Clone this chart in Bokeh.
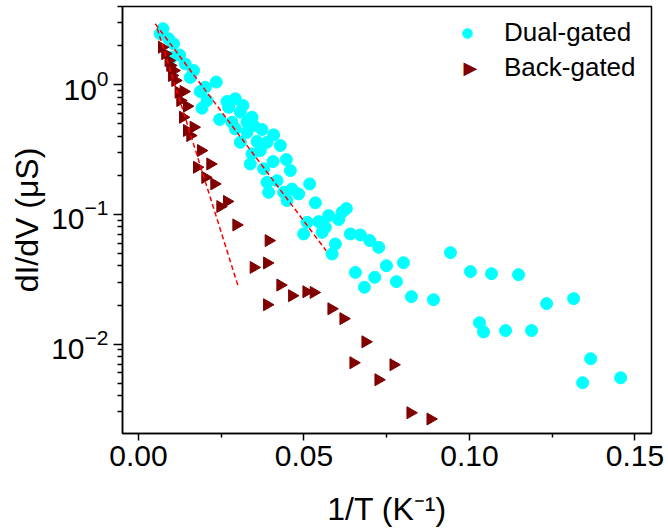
import math
from bokeh.plotting import figure
from bokeh.models import (Range1d, FixedTicker, NumeralTickFormatter, LogTickFormatter,
                          Legend, LegendItem, Label)
from bokeh.embed import file_html
from bokeh.resources import INLINE

# ---- data ----
dual_x = [0.00738, 0.00656, 0.00907, 0.01058, 0.01240, 0.01010, 0.01412, 0.01663, 0.01563, 0.02350,
          0.02017, 0.01866, 0.02069, 0.01917, 0.02673, 0.02924, 0.02722, 0.03157, 0.03076, 0.02450,
          0.02825, 0.03429, 0.03278, 0.02924, 0.03478, 0.03732, 0.03278, 0.03076, 0.03581, 0.04083,
          0.03883, 0.04285, 0.03680, 0.03429, 0.04467, 0.04064, 0.03378, 0.03780, 0.04588, 0.04185,
          0.03883, 0.05171, 0.04639, 0.04839, 0.03931, 0.04385, 0.04488, 0.05344, 0.06281, 0.06151,
          0.05746, 0.06048, 0.05093, 0.05443, 0.05646, 0.04990, 0.05546, 0.06402, 0.06705, 0.06986,
          0.07258, 0.05949, 0.05849, 0.06553, 0.07137, 0.06826, 0.07491, 0.08005, 0.07793, 0.08247,
          0.08912, 0.09426, 0.10031, 0.10303, 0.10666, 0.10424, 0.11090, 0.11483, 0.11876, 0.12330,
          0.13147, 0.13661, 0.13419, 0.14568]
dual_y = [2.71, 2.48, 2.27, 2.07, 1.70, 1.63, 1.45, 1.29, 1.14, 1.05,
          0.958, 0.888, 0.756, 0.660, 0.743, 0.780, 0.671, 0.692, 0.615, 0.540,
          0.514, 0.562, 0.514, 0.457, 0.485, 0.452, 0.430, 0.360, 0.365, 0.411,
          0.360, 0.340, 0.311, 0.293, 0.265, 0.256, 0.245, 0.225, 0.218, 0.182,
          0.177, 0.172, 0.157, 0.144, 0.148, 0.148, 0.128, 0.123, 0.111, 0.104,
          0.0979, 0.0912, 0.0869, 0.0880, 0.0795, 0.0707, 0.0727, 0.0707, 0.0694, 0.0628,
          0.0557, 0.0592, 0.0495, 0.0357, 0.0327, 0.0274, 0.0402, 0.0424, 0.0303, 0.0232,
          0.0220, 0.0507, 0.0362, 0.0146, 0.0349, 0.0124, 0.0127, 0.0343, 0.0127, 0.0205,
          0.0224, 0.00770, 0.00503, 0.00549]

back_x = [0.00708, 0.00807, 0.00907, 0.00959, 0.01058, 0.01010, 0.01110, 0.01210, 0.01361, 0.01261,
          0.01464, 0.01343, 0.01663, 0.01464, 0.01563, 0.01887, 0.01766, 0.02168, 0.02017, 0.02289,
          0.02673, 0.02471, 0.02955, 0.03931, 0.03478, 0.03883, 0.04285, 0.04639, 0.05072, 0.05292,
          0.03883, 0.05828, 0.06191, 0.06856, 0.06493, 0.07703, 0.07249, 0.08216, 0.08821]
back_y = [1.95, 1.74, 1.54, 1.41, 1.29, 1.18, 1.08, 0.877, 0.888, 0.756,
          0.684, 0.562, 0.471, 0.444, 0.406, 0.311, 0.231, 0.245, 0.193, 0.172,
          0.126, 0.115, 0.0830, 0.0628, 0.0390, 0.0422, 0.0285, 0.0236, 0.0253, 0.0250,
          0.0201, 0.0187, 0.0157, 0.0104, 0.00717, 0.00692, 0.00530, 0.00295, 0.00264]

fit_dual_x = [0.00505, 0.0567]
fit_dual_y = [2.96, 0.0525]
fit_back_x = [0.00566, 0.0302]
fit_back_y = [2.72, 0.0274]

series_labels = ["Dual-gated", "Back-gated"]
x_title = "1/T (K\u207b\u00b9)"
y_title = "dI/dV (\u03bcS)"
x_ticks = [0.0, 0.05, 0.10, 0.15]
x_minor = [0.025, 0.075, 0.125]
y_ticks = [0.01, 0.1, 1.0]
y_minor = [k * 10.0 ** e for e in (-3, -2, -1, 0) for k in range(2, 10)]

FONT = "Liberation Sans"
CYAN = "#00FFFF"
MAROON = "#800000"

p = figure(width=668, height=531, output_backend="svg", toolbar_location=None,
           y_axis_type="log",
           x_range=Range1d(-0.00484, 0.155), y_range=Range1d(0.00204, 4.02),
           min_border_left=122, min_border_right=17, min_border_top=6, min_border_bottom=98)
p.grid.visible = False
p.outline_line_color = "black"
p.outline_line_width = 1.5
p.background_fill_color = "white"
p.border_fill_color = "white"

r_dual = p.scatter(dual_x, dual_y, marker="circle", size=12, fill_color=CYAN, line_color=CYAN)
r_back = p.scatter(back_x, back_y, marker="triangle", size=12, angle=-math.pi / 2,
                   fill_color=MAROON, line_color=MAROON)
p.line(fit_dual_x, fit_dual_y, line_color="red", line_width=1.5, line_dash="5 3")
p.line(fit_back_x, fit_back_y, line_color="red", line_width=1.5, line_dash="5 3")

# legend stand-in for the right-pointing triangle (legend glyphs ignore the angle)
r_back_key = p.scatter([], [], marker="triangle", size=12, fill_alpha=0, line_alpha=0)

xa = p.xaxis[0]
xa.ticker = FixedTicker(ticks=x_ticks, minor_ticks=x_minor)
xa.formatter = NumeralTickFormatter(format="0.00")
xa.axis_label = x_title
ya = p.yaxis[0]
ya.ticker = FixedTicker(ticks=y_ticks, minor_ticks=y_minor)
ya.formatter = LogTickFormatter()
ya.axis_label = y_title

for ax in (xa, ya):
    ax.axis_line_color = "black"
    ax.axis_line_width = 1.5
    ax.major_tick_line_color = "black"
    ax.minor_tick_line_color = "black"
    ax.major_tick_line_width = 1.5
    ax.minor_tick_line_width = 1.5
    ax.major_tick_in = 0
    ax.minor_tick_in = 0
    ax.major_label_text_font = FONT
    ax.major_label_text_font_size = "30px"
    ax.major_label_text_color = "black"
    ax.axis_label_text_font = FONT
    ax.axis_label_text_font_size = "32px"
    ax.axis_label_text_font_style = "normal"
    ax.axis_label_text_color = "black"

xa.major_tick_out = 7
xa.minor_tick_out = 4
xa.major_label_standoff = 5
xa.axis_label_standoff = 22
ya.major_tick_out = 9
ya.minor_tick_out = 5
ya.major_label_standoff = 5
ya.axis_label_standoff = 3

LX, LY = 330, 350
legend = Legend(items=[LegendItem(label=series_labels[0], renderers=[r_dual]),
                       LegendItem(label=series_labels[1], renderers=[r_back_key])],
                location=(LX, LY))
legend.border_line_color = None
legend.background_fill_alpha = 0
legend.label_text_font = FONT
legend.label_text_font_size = "26px"
legend.label_text_color = "black"
legend.glyph_width = 30
legend.glyph_height = 24
legend.label_standoff = 22
legend.spacing = 4
legend.padding = 10
legend.margin = 0
p.add_layout(legend, "center")

key = Label(x=348, y=366, x_units="screen", y_units="screen", text="\u25b6",
            text_font="DejaVu Sans", text_font_size="18px", text_color=MAROON,
            text_align="center", text_baseline="middle")
p.add_layout(key)

open("out.html", "w").write(file_html(p, INLINE))
